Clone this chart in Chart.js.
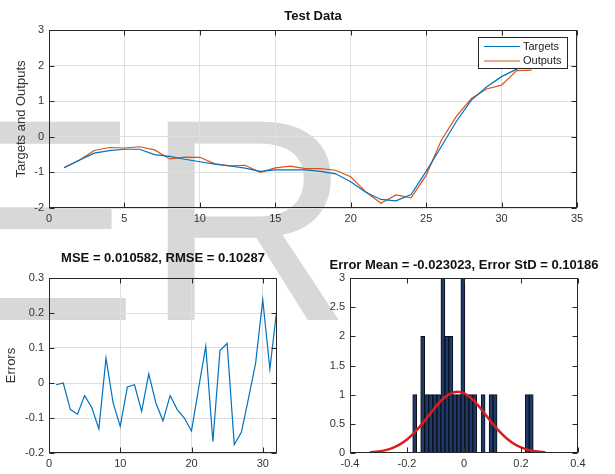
<!DOCTYPE html>
<html>
<head>
<meta charset="utf-8">
<script src="https://cdn.jsdelivr.net/npm/chart.js@4/dist/chart.umd.min.js"></script>
<style>
  html, body { margin: 0; padding: 0; background: #fff; }
  #page { position: relative; width: 615px; height: 474px; overflow: hidden; background: #fff; }
  #mark {
    position: absolute; left: -54px; top: 76px;
    font: 288px/288px "Liberation Sans", Arial, Helvetica, sans-serif;
    letter-spacing: 6px;
    color: #d8d8d8; white-space: nowrap; z-index: 0;
  }
  canvas { position: absolute; z-index: 1; }
</style>
</head>
<body>
<div id="page">
  <div id="mark">ER</div>
  <canvas id="fit" width="615" height="232" style="left:0;top:0"></canvas>
  <canvas id="err" width="307" height="242" style="left:0;top:232px"></canvas>
  <canvas id="hist" width="308" height="242" style="left:307px;top:232px"></canvas>
</div>
<script>
// ---- data ----
const sampleIndex = [1, 2, 3, 4, 5, 6, 7, 8, 9, 10, 11, 12, 13, 14, 15, 16,
                     17, 18, 19, 20, 21, 22, 23, 24, 25, 26, 27, 28, 29, 30, 31, 32];

const targets = [-0.87, -0.66, -0.46, -0.39, -0.35, -0.35, -0.50, -0.55, -0.63, -0.70,
                 -0.77, -0.82, -0.88, -0.97, -0.93, -0.93, -0.93, -0.97, -1.04, -1.26,
                 -1.56, -1.76, -1.80, -1.62, -0.97, -0.28, 0.43, 1.03, 1.40, 1.69, 1.90, 2.09];

const outputs = [-0.865, -0.66, -0.384, -0.301, -0.314, -0.28, -0.369, -0.621, -0.573, -0.576,
                 -0.759, -0.815, -0.799, -0.996, -0.873, -0.822, -0.894, -0.894, -0.94, -1.123,
                 -1.545, -1.865, -1.633, -1.713, -1.083, -0.104, 0.571, 1.074, 1.343, 1.452, 1.86, 1.875];

const errors = [-0.005, 0.0, -0.076, -0.089, -0.036, -0.07, -0.131, 0.071, -0.057, -0.124,
                -0.011, -0.005, -0.081, 0.026, -0.057, -0.108, -0.036, -0.076, -0.1, -0.137,
                -0.015, 0.105, -0.167, 0.093, 0.113, -0.176, -0.141, -0.044, 0.057, 0.238, 0.04, 0.215];

// histogram bins of the errors
const binCenters = [-0.173, -0.159, -0.145, -0.131, -0.117, -0.102, -0.088, -0.074, -0.060, -0.046,
                    -0.032, -0.018, -0.004, 0.010, 0.024, 0.038, 0.052, 0.067, 0.081, 0.095,
                    0.109, 0.123, 0.137, 0.151, 0.165, 0.179, 0.193, 0.208, 0.222, 0.236];
const binCounts = [1, 0, 2, 1, 1, 1, 1, 3, 2, 2,
                   1, 1, 3, 1, 1, 1, 0, 1, 0, 1,
                   1, 0, 0, 0, 0, 0, 0, 0, 1, 1];

// fitted normal curve over the histogram
const normalX = [-0.33, -0.3, -0.275, -0.25, -0.225, -0.2, -0.175, -0.15, -0.125, -0.1, -0.075, -0.05,
                 -0.023, 0, 0.025, 0.05, 0.075, 0.1, 0.125, 0.15, 0.175, 0.2, 0.225, 0.25, 0.285];
const normalY = [0.011, 0.026, 0.049, 0.088, 0.147, 0.232, 0.345, 0.483, 0.636, 0.789, 0.922, 1.014,
                 1.05, 1.024, 0.940, 0.812, 0.661, 0.506, 0.365, 0.248, 0.159, 0.096, 0.054, 0.029, 0.011];

// tick values
const fitXTicks = [0, 5, 10, 15, 20, 25, 30, 35];
const fitYTicks = [-2, -1, 0, 1, 2, 3];
const errXTicks = [0, 10, 20, 30];
const errYTicks = [-0.2, -0.1, 0, 0.1, 0.2, 0.3];
const histXTicks = [-0.4, -0.2, 0, 0.2, 0.4];
const histYTicks = [0, 0.5, 1, 1.5, 2, 2.5, 3];

// ---- styling ----
const INK = '#262626';
const GRID = '#dfdfdf';
const BLUE = '#0072bd';
const ORANGE = '#d95319';

Chart.defaults.font.family = '"Liberation Sans", Arial, Helvetica, sans-serif';
Chart.defaults.font.size = 11;
Chart.defaults.color = '#333';
Chart.defaults.animation = false;

function axis({ min, max, ticks, grid, size, vertical, title, titlePad }) {
  return {
    type: 'linear', min, max, offset: false,
    grid: { display: grid, color: GRID, lineWidth: 1, drawTicks: false, offset: false },
    border: { display: false },
    ticks: {
      padding: vertical ? 5 : 4, maxRotation: 0, autoSkip: false, includeBounds: false,
      color: '#333', font: { size: 11 }, callback: v => String(v)
    },
    title: title
      ? { display: true, text: title, color: '#333', font: { size: 13 }, padding: { top: titlePad, bottom: 0 } }
      : { display: false },
    afterBuildTicks: s => { s.ticks = ticks.map(v => ({ value: v })); },
    afterFit: s => {
      if (vertical) s.width = size; else s.height = size;
      s.paddingLeft = s.paddingRight = s.paddingTop = s.paddingBottom = 0;
    }
  };
}

// box around the plot area with inward tick marks on all four sides
const axesFrame = {
  id: 'axesFrame',
  afterDatasetsDraw(chart) {
    const { ctx, chartArea: a, scales } = chart;
    const L = a.left + 0.5, R = a.right - 0.5, T = a.top + 0.5, B = a.bottom - 0.5;
    const len = 5;
    ctx.save();
    ctx.strokeStyle = INK;
    ctx.lineWidth = 1;
    ctx.beginPath();
    scales.x.ticks.forEach(t => {
      const px = Math.round(scales.x.getPixelForValue(t.value)) + 0.5;
      ctx.moveTo(px, B); ctx.lineTo(px, B - len);
      ctx.moveTo(px, T); ctx.lineTo(px, T + len);
    });
    scales.y.ticks.forEach(t => {
      const py = Math.round(scales.y.getPixelForValue(t.value)) + 0.5;
      ctx.moveTo(L, py); ctx.lineTo(L + len, py);
      ctx.moveTo(R, py); ctx.lineTo(R - len, py);
    });
    ctx.stroke();
    ctx.strokeRect(L, T, R - L, B - T);
    ctx.restore();
  }
};

// bold title centred over the plot area
const axesTitle = {
  id: 'axesTitle',
  afterDraw(chart, args, opts) {
    const { ctx, chartArea: a } = chart;
    ctx.save();
    ctx.font = 'bold 13px "Liberation Sans", Arial, Helvetica, sans-serif';
    ctx.fillStyle = '#111';
    ctx.textAlign = 'center';
    ctx.textBaseline = 'middle';
    ctx.fillText(opts.text, (a.left + a.right) / 2, opts.y);
    ctx.restore();
  }
};

// legend box inside the upper right corner of the plot area
const insetLegend = {
  id: 'insetLegend',
  afterDraw(chart) {
    const { ctx, chartArea: a } = chart;
    const w = 90, h = 32;
    const x = a.right - 9 - w, y = a.top + 7;
    ctx.save();
    ctx.fillStyle = '#fff';
    ctx.fillRect(x, y, w, h);
    ctx.strokeStyle = INK;
    ctx.lineWidth = 1;
    ctx.strokeRect(x + 0.5, y + 0.5, w - 1, h - 1);
    ctx.font = '11px "Liberation Sans", Arial, Helvetica, sans-serif';
    ctx.textBaseline = 'middle';
    ctx.textAlign = 'left';
    chart.data.datasets.forEach((ds, i) => {
      const ly = y + 9.5 + i * 14.5;
      ctx.strokeStyle = ds.borderColor;
      ctx.lineWidth = 1.2;
      ctx.beginPath();
      ctx.moveTo(x + 6, ly); ctx.lineTo(x + 42, ly);
      ctx.stroke();
      ctx.fillStyle = '#222';
      ctx.fillText(ds.label, x + 45, ly);
    });
    ctx.restore();
  }
};

const common = {
  responsive: false,
  devicePixelRatio: 1,
  events: [],
  animation: false
};

const toPoints = (xs, ys) => xs.map((x, i) => ({ x, y: ys[i] }));

// ---- Test Data: targets and outputs ----
new Chart(document.getElementById('fit'), {
  type: 'line',
  data: {
    datasets: [
      { label: 'Targets', data: toPoints(sampleIndex, targets), borderColor: BLUE, borderWidth: 1.2, pointRadius: 0, tension: 0 },
      { label: 'Outputs', data: toPoints(sampleIndex, outputs), borderColor: ORANGE, borderWidth: 1.2, pointRadius: 0, tension: 0 }
    ]
  },
  options: {
    ...common,
    layout: { padding: { left: 0, right: 38, top: 30, bottom: 0 } },
    scales: {
      x: axis({ min: 0, max: 35, ticks: fitXTicks, grid: true, size: 24, vertical: false }),
      y: axis({ min: -2, max: 3, ticks: fitYTicks, grid: true, size: 49, vertical: true, title: 'Targets and Outputs', titlePad: 14 })
    },
    plugins: {
      legend: { display: false },
      tooltip: { enabled: false },
      axesTitle: { text: 'Test Data', y: 16 }
    }
  },
  plugins: [axesFrame, axesTitle, insetLegend]
});

// ---- errors per sample ----
new Chart(document.getElementById('err'), {
  type: 'line',
  data: {
    datasets: [
      { label: 'Errors', data: toPoints(sampleIndex, errors), borderColor: BLUE, borderWidth: 1.2, pointRadius: 0, tension: 0 }
    ]
  },
  options: {
    ...common,
    layout: { padding: { left: 0, right: 30, top: 46, bottom: 0 } },
    scales: {
      x: axis({ min: 0, max: 32, ticks: errXTicks, grid: true, size: 21, vertical: false }),
      y: axis({ min: -0.2, max: 0.3, ticks: errYTicks, grid: true, size: 49, vertical: true, title: 'Errors', titlePad: 4 })
    },
    plugins: {
      legend: { display: false },
      tooltip: { enabled: false },
      axesTitle: { text: 'MSE = 0.010582, RMSE = 0.10287', y: 26 }
    }
  },
  plugins: [axesFrame, axesTitle]
});

// ---- error histogram with normal fit ----
new Chart(document.getElementById('hist'), {
  type: 'bar',
  data: {
    datasets: [
      { type: 'line', label: 'Normal fit', data: toPoints(normalX, normalY), borderColor: '#de1c1c', borderWidth: 2.5,
        pointRadius: 0, cubicInterpolationMode: 'monotone' },
      { type: 'bar', label: 'Errors', data: toPoints(binCenters, binCounts), backgroundColor: '#1e3a66',
        borderColor: '#0b0f1c', borderWidth: 1, borderSkipped: 'start', barPercentage: 1, categoryPercentage: 1 }
    ]
  },
  options: {
    ...common,
    layout: { padding: { left: 0, right: 37, top: 46, bottom: 0 } },
    scales: {
      x: axis({ min: -0.4, max: 0.4, ticks: histXTicks, grid: false, size: 21, vertical: false }),
      y: axis({ min: 0, max: 3, ticks: histYTicks, grid: false, size: 43, vertical: true })
    },
    plugins: {
      legend: { display: false },
      tooltip: { enabled: false },
      axesTitle: { text: 'Error Mean = -0.023023, Error StD = 0.10186', y: 33 }
    }
  },
  plugins: [axesFrame, axesTitle]
});
</script>
</body>
</html>
